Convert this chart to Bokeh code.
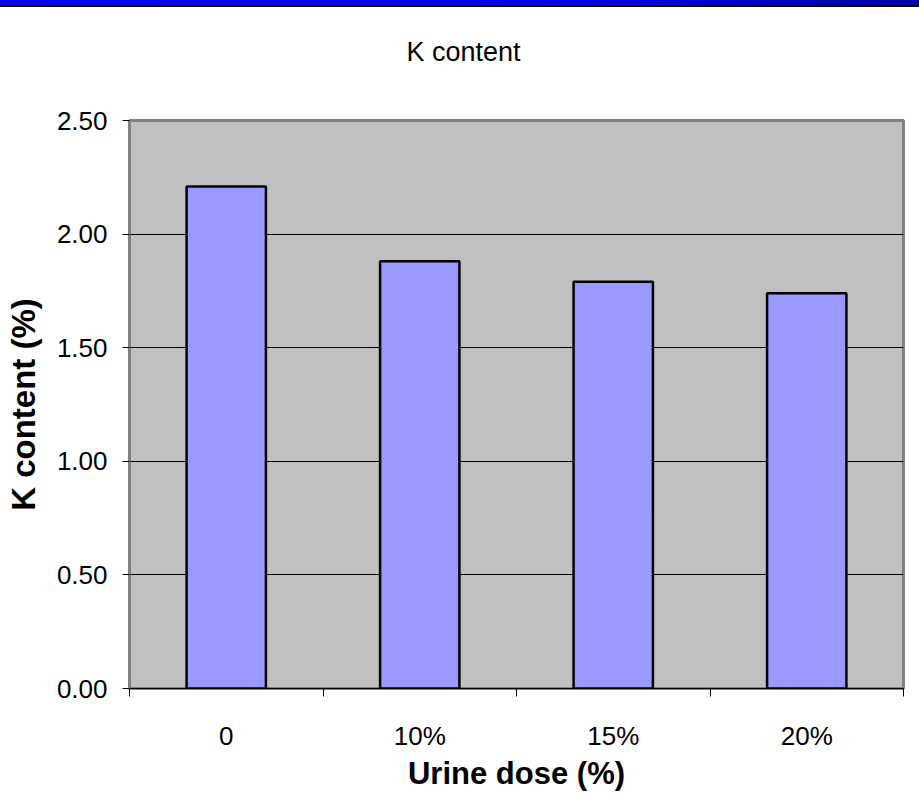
from bokeh.plotting import figure
from bokeh.models import Range1d, FixedTicker, Div
from bokeh.layouts import column
from bokeh.embed import file_html
from bokeh.resources import INLINE

categories = ["0", "10%", "15%", "20%"]
k_content = [2.21, 1.88, 1.79, 1.74]
y_ticks = [0.0, 0.5, 1.0, 1.5, 2.0, 2.5]
y_tick_labels = ["0.00", "0.50", "1.00", "1.50", "2.00", "2.50"]
title_text = "K content"

FONT = "Liberation Sans"

xs = [i + 0.5 for i in range(len(categories))]

band = Div(width=919, height=7, margin=(0, 0, 0, 0),
           styles={"background": "linear-gradient(to right, #0000ff, #0000f0 60%, #0000a8)",
                   "border-bottom": "2px solid #000000", "box-sizing": "border-box"})

title_div = Div(text=title_text, width=919, height=60, margin=(0, 0, 0, 0),
                styles={"font-family": "'Liberation Sans', sans-serif", "font-size": "27px",
                        "color": "#000000", "text-align": "center", "line-height": "30px",
                        "padding-top": "30px", "padding-left": "8px", "box-sizing": "border-box",
                        "background": "#ffffff"})

p = figure(width=919, height=733, output_backend="svg", toolbar_location=None,
           x_range=Range1d(0, len(categories)), y_range=Range1d(0, 2.5),
           frame_width=774, frame_height=568,
           min_border_left=129, min_border_right=16, min_border_top=53, min_border_bottom=112,
           background_fill_color="#c0c0c0", border_fill_color="#ffffff",
           outline_line_color="#808080", outline_line_width=3, margin=(0, 0, 0, 0))

p.vbar(x=xs, top=k_content, width=0.41, fill_color="#9999ff", line_color="#000000", line_width=2.5)

p.xgrid.visible = False
p.ygrid.grid_line_color = "#000000"
p.ygrid.grid_line_width = 1
p.ygrid.ticker = FixedTicker(ticks=y_ticks)

ya = p.yaxis[0]
ya.ticker = FixedTicker(ticks=y_ticks, minor_ticks=[])
ya.major_label_overrides = {v: s for v, s in zip(y_ticks, y_tick_labels)}
ya.major_tick_out = 7
ya.major_tick_in = 0
ya.minor_tick_out = 0
ya.minor_tick_in = 0
ya.major_tick_line_color = "#000000"
ya.axis_line_color = "#808080"
ya.axis_line_width = 2
ya.major_label_standoff = 15
ya.major_label_text_font = FONT
ya.major_label_text_font_size = "26px"
ya.major_label_text_color = "#000000"
ya.axis_label = "K content (%)"
ya.axis_label_text_font = FONT
ya.axis_label_text_font_style = "bold"
ya.axis_label_text_font_size = "33px"
ya.axis_label_text_color = "#000000"
ya.axis_label_standoff = 12

xa = p.xaxis[0]
xa.ticker = FixedTicker(ticks=xs, minor_ticks=list(range(len(categories) + 1)))
xa.major_label_overrides = {x: c for x, c in zip(xs, categories)}
xa.major_tick_out = 0
xa.major_tick_in = 0
xa.minor_tick_out = 8
xa.minor_tick_in = 0
xa.minor_tick_line_color = "#000000"
xa.axis_line_color = "#000000"
xa.axis_line_width = 1
xa.major_label_standoff = 24
xa.major_label_text_font = FONT
xa.major_label_text_font_size = "26px"
xa.major_label_text_color = "#000000"
xa.axis_label = "Urine dose (%)"
xa.axis_label_text_font = FONT
xa.axis_label_text_font_style = "bold"
xa.axis_label_text_font_size = "31px"
xa.axis_label_text_color = "#000000"
xa.axis_label_standoff = 2

layout = column(band, title_div, p, spacing=0, margin=(0, 0, 0, 0))

open("out.html", "w").write(file_html(layout, INLINE))
